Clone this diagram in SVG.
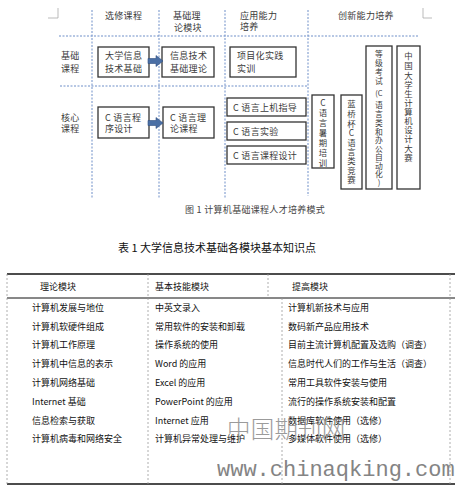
<svg xmlns="http://www.w3.org/2000/svg" width="455" height="488" viewBox="0 0 455 488">
<style>
text{font-family:"Noto Sans CJK SC","Liberation Sans",sans-serif;dominant-baseline:central}
.t{font-size:9px;fill:#3a3a3a;letter-spacing:0.3px}
.v{font-size:8.4px;fill:#3a3a3a;text-anchor:middle}
.v2{font-size:7.8px;fill:#3a3a3a;text-anchor:middle}
.box{fill:#fff;stroke:#333;stroke-width:1.3}
.grid{stroke:#6f8fc8;stroke-width:1;stroke-dasharray:2 1.5;fill:none}
.tb{font-size:9px;fill:#111}
.tl{stroke:#999;stroke-width:0.8;stroke-dasharray:2 2;fill:none}
.arrow{fill:#4a6fa5;stroke:#2f4f7f;stroke-width:0.6}
</style>
<rect width="455" height="488" fill="#fff"/>
<g id="frame">
<path d="M48,18 H58 V8" fill="none" stroke="#aaa" stroke-width="0.8"/>
<path d="M423,8 V18 H432" fill="none" stroke="#aaa" stroke-width="0.8"/>
<line class="grid" x1="92" y1="10" x2="92" y2="198"/>
<line class="grid" x1="159" y1="10" x2="159" y2="198"/>
<line class="grid" x1="225" y1="10" x2="225" y2="198"/>
<line class="grid" x1="308" y1="10" x2="308" y2="196"/>
<line class="grid" x1="59" y1="36" x2="418" y2="36"/>
<line class="grid" x1="60" y1="86" x2="308" y2="86"/>
</g>
<g id="headers">
<text class="t" x="105" y="15">选修课程</text>
<text class="t" x="173" y="15">基础理</text>
<text class="t" x="174" y="27">论模块</text>
<text class="t" x="240" y="15">应用能力</text>
<text class="t" x="240" y="26">培养</text>
<text class="t" x="338" y="15">创新能力培养</text>
<text class="t" x="61" y="55">基础</text>
<text class="t" x="61" y="68">课程</text>
<text class="t" x="61" y="117">核心</text>
<text class="t" x="61" y="128">课程</text>
</g>
<g id="n1"><rect class="box" x="98" y="47" width="51" height="30"/><text class="t" x="105" y="55">大学信息</text><text class="t" x="105" y="68">技术基础</text></g>
<g id="n2"><rect class="box" x="162" y="47" width="52" height="30"/><text class="t" x="170" y="55">信息技术</text><text class="t" x="170" y="68">基础理论</text></g>
<g id="n3"><rect class="box" x="230" y="47" width="66" height="30"/><text class="t" x="237" y="55">项目化实践</text><text class="t" x="237" y="68">实训</text></g>
<g id="n4"><rect class="box" x="98" y="107" width="51" height="31"/><text class="t" x="105" y="117">C 语言程</text><text class="t" x="105" y="128">序设计</text></g>
<g id="n5"><rect class="box" x="163" y="107" width="51" height="31"/><text class="t" x="170" y="117">C  语言理</text><text class="t" x="170" y="128">论课程</text></g>
<g id="n6"><rect class="box" x="227" y="98" width="79" height="18"/><text class="t" x="233" y="107.5">C 语言上机指导</text></g>
<g id="n7"><rect class="box" x="227" y="122" width="79" height="18"/><text class="t" x="233" y="131">C 语言实验</text></g>
<g id="n8"><rect class="box" x="227" y="146" width="79" height="18"/><text class="t" x="233" y="155">C 语言课程设计</text></g>
<g id="n9"><rect class="box" x="312" y="95" width="22" height="73"/>
<text class="v" x="323"><tspan x="323" y="102">C</tspan><tspan x="323" y="112">语</tspan><tspan x="323" y="122">言</tspan><tspan x="323" y="132">暑</tspan><tspan x="323" y="142">期</tspan><tspan x="323" y="152">培</tspan><tspan x="323" y="162">训</tspan></text></g>
<g id="n10"><rect class="box" x="341" y="95" width="21" height="94"/>
<text class="v" x="351.5"><tspan x="351.5" y="103">蓝</tspan><tspan x="351.5" y="113">桥</tspan><tspan x="351.5" y="123">杯</tspan><tspan x="351.5" y="132">C</tspan><tspan x="351.5" y="142">语</tspan><tspan x="351.5" y="151">言</tspan><tspan x="351.5" y="160">类</tspan><tspan x="351.5" y="170">竞</tspan><tspan x="351.5" y="179">赛</tspan></text></g>
<g id="n11"><rect class="box" x="366" y="46" width="26" height="143"/>
<text class="v2" x="379"><tspan x="379" y="53">等</tspan><tspan x="379" y="62">级</tspan><tspan x="379" y="71">考</tspan><tspan x="379" y="80">试</tspan><tspan x="379" y="92" font-size="7.5">(C</tspan><tspan x="379" y="104">语</tspan><tspan x="379" y="113">言</tspan><tspan x="379" y="122">类</tspan><tspan x="379" y="130.5">和</tspan><tspan x="379" y="139">办</tspan><tspan x="379" y="147.5">公</tspan><tspan x="379" y="156">自</tspan><tspan x="379" y="164.5">动</tspan><tspan x="379" y="173">化</tspan><tspan x="379" y="181">)</tspan></text></g>
<g id="n12"><rect class="box" x="397" y="46" width="23" height="143"/>
<text class="v" x="408.5"><tspan x="408.5" y="55">中</tspan><tspan x="408.5" y="65">国</tspan><tspan x="408.5" y="75">大</tspan><tspan x="408.5" y="84">学</tspan><tspan x="408.5" y="93">生</tspan><tspan x="408.5" y="102">计</tspan><tspan x="408.5" y="111">算</tspan><tspan x="408.5" y="120">机</tspan><tspan x="408.5" y="129">设</tspan><tspan x="408.5" y="138">计</tspan><tspan x="408.5" y="148">大</tspan><tspan x="408.5" y="157">赛</tspan></text></g>
<g id="connectors">
<path class="arrow" d="M148,58.5 H156 V55.5 L163,61 L156,66.5 V63.5 H148 Z"/>
<path class="arrow" d="M148,120.5 H156 V117.5 L163,123 L156,128.5 V125.5 H148 Z"/>
</g>
<g id="caption"><text x="185" y="209" style="font-size:9px;fill:#444;letter-spacing:0.3px">图 1  计算机基础课程人才培养模式</text></g>
<g id="title"><text x="118" y="247" style="font-size:11px;fill:#111">表 1  大学信息技术基础各模块基本知识点</text></g>
<g id="table">
<line x1="7" y1="274" x2="455" y2="274" stroke="#111" stroke-width="1.5"/>
<line x1="7" y1="298" x2="455" y2="298" stroke="#111" stroke-width="1"/>
<line x1="7" y1="484" x2="455" y2="484" stroke="#111" stroke-width="1.5"/>
<line class="tl" x1="7" y1="274" x2="7" y2="484"/>
<line class="tl" x1="148" y1="274" x2="148" y2="484"/>
<line class="tl" x1="268" y1="274" x2="268" y2="298"/>
<line class="tl" x1="282" y1="298" x2="282" y2="484"/>
<line class="tl" x1="450" y1="274" x2="450" y2="484"/>
<text class="tb" x="40" y="286">理论模块</text>
<text class="tb" x="155" y="286">基本技能模块</text>
<text class="tb" x="292" y="286">提高模块</text>
<text class="tb" x="32" y="307">计算机发展与地位</text>
<text class="tb" x="32" y="326">计算机软硬件组成</text>
<text class="tb" x="32" y="344">计算机工作原理</text>
<text class="tb" x="32" y="363">计算机中信息的表示</text>
<text class="tb" x="32" y="382">计算机网络基础</text>
<text class="tb" x="32" y="401">Internet 基础</text>
<text class="tb" x="32" y="420">信息检索与获取</text>
<text class="tb" x="32" y="438">计算机病毒和网络安全</text>
<text class="tb" x="155" y="307">中英文录入</text>
<text class="tb" x="155" y="326">常用软件的安装和卸载</text>
<text class="tb" x="155" y="344">操作系统的使用</text>
<text class="tb" x="155" y="363">Word 的应用</text>
<text class="tb" x="155" y="382">Excel 的应用</text>
<text class="tb" x="155" y="401">PowerPoint 的应用</text>
<text class="tb" x="155" y="420">Internet 应用</text>
<text class="tb" x="155" y="438">计算机异常处理与维护</text>
<text class="tb" x="288" y="307">计算机新技术与应用</text>
<text class="tb" x="288" y="326">数码新产品应用技术</text>
<text class="tb" x="288" y="344">目前主流计算机配置及选购（调查）</text>
<text class="tb" x="288" y="363">信息时代人们的工作与生活（调查）</text>
<text class="tb" x="288" y="382">常用工具软件安装与使用</text>
<text class="tb" x="288" y="401">流行的操作系统安装和配置</text>
<text class="tb" x="288" y="420">数据库软件使用（选修）</text>
<text class="tb" x="288" y="438">多媒体软件使用（选修）</text>
</g>
<g id="watermark">
<text x="227" y="428" style="font-size:23.5px;fill:#8a8a8a;opacity:0.85;font-weight:300;letter-spacing:0.2px">中国期刊网</text>
<text x="217" y="470" style="font-family:'Liberation Mono',monospace;font-size:22px;fill:#777;opacity:0.9">www.chinaqking.com</text>
</g>
</svg>
